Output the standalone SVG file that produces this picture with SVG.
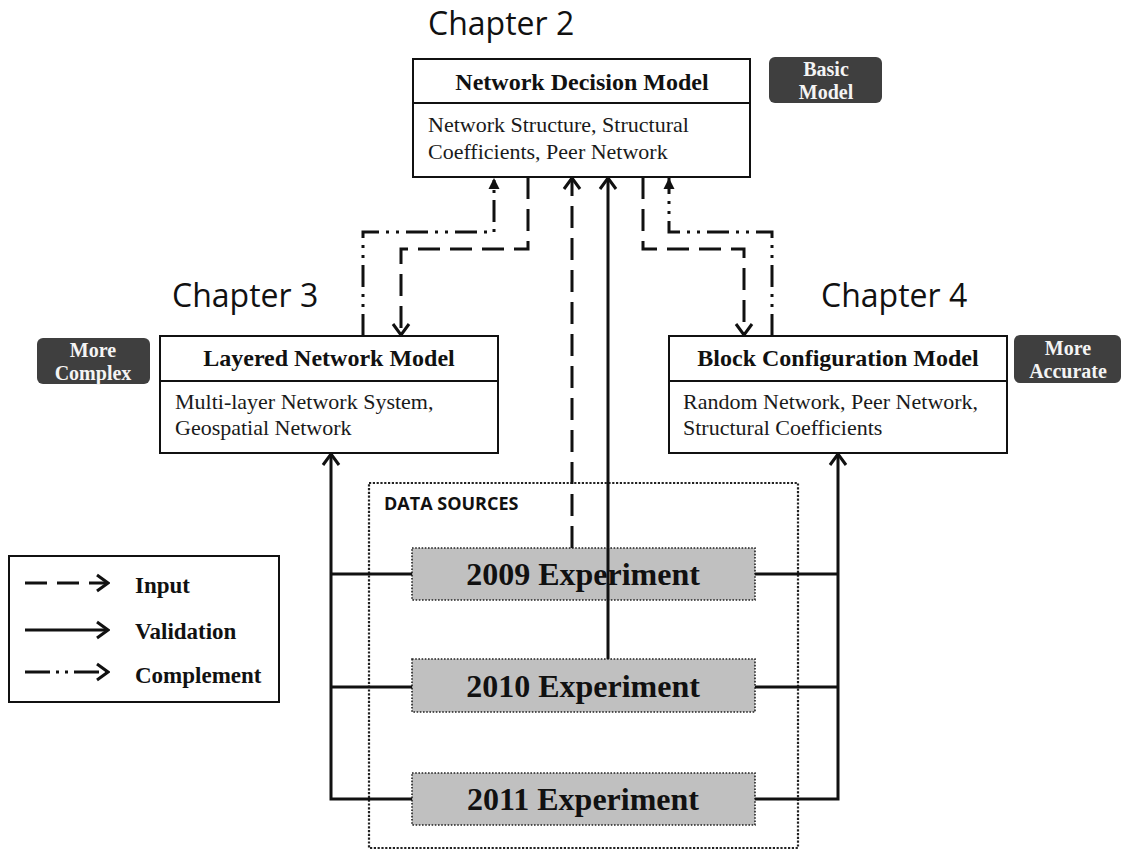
<svg xmlns="http://www.w3.org/2000/svg" width="1123" height="851" viewBox="0 0 1123 851">
<style>
.box{fill:#fff;stroke:#111;stroke-width:2}
.div{stroke:#111;stroke-width:2}
.title{font-family:"Liberation Serif",serif;font-weight:bold;font-size:24px;fill:#111;text-anchor:middle}
.body{font-family:"Liberation Serif",serif;font-size:22px;fill:#1a1a1a}
.chap{font-family:"Open Sans","Liberation Sans",sans-serif;font-size:32px;fill:#111}
.badge{fill:#3f3f3f}
.btxt{font-family:"Liberation Serif",serif;font-weight:bold;font-size:20px;fill:#f4f4f4;text-anchor:middle}
.exp{fill:#c0c0c0;stroke:#222;stroke-width:1.6;stroke-dasharray:1.6 1.6}
.etxt{font-family:"Liberation Serif",serif;font-weight:bold;font-size:32px;fill:#111;text-anchor:middle}
.ds{fill:none;stroke:#222;stroke-width:2.2;stroke-dasharray:2.2 1.6}
.dstxt{font-family:"Open Sans","Liberation Sans",sans-serif;font-weight:bold;font-size:18px;fill:#111}
.ltxt{font-family:"Liberation Serif",serif;font-weight:bold;font-size:23px;fill:#111}
.c{fill:none;stroke:#111;stroke-width:3}
.dash{stroke-dasharray:22 10}
.dd{stroke-dasharray:22 7 3 7 3 7}
</style>
<defs>
<marker id="open" viewBox="0 0 20 20" refX="18" refY="10" markerWidth="20" markerHeight="20" markerUnits="userSpaceOnUse" orient="auto">
<path d="M7,2 L18,10 L7,18" fill="none" stroke="#111" stroke-width="3" stroke-dasharray="none"/>
</marker>
<marker id="tri" viewBox="0 0 12 12" refX="11" refY="6" markerWidth="12" markerHeight="12" markerUnits="userSpaceOnUse" orient="auto">
<path d="M0,0.5 L11,6 L0,11.5 Z" fill="#111" stroke="none"/>
</marker>
</defs>

<g id="chapter-labels">
<text class="chap" x="428" y="35">Chapter 2</text>
<text class="chap" x="172" y="307">Chapter 3</text>
<text class="chap" x="821" y="307">Chapter 4</text>
</g>

<g id="network-decision-model">
<rect class="box" x="413" y="59" width="337" height="118"/>
<line class="div" x1="413" y1="103" x2="750" y2="103"/>
<text class="title" x="582" y="90">Network Decision Model</text>
<text class="body" x="428" y="132">Network Structure, Structural</text>
<text class="body" x="428" y="159">Coefficients, Peer Network</text>
</g>

<g id="badge-basic">
<rect class="badge" x="769" y="57" width="113" height="46" rx="6"/>
<text class="btxt" x="826" y="76">Basic</text>
<text class="btxt" x="826" y="99">Model</text>
</g>

<g id="layered-network-model">
<rect class="box" x="160" y="336" width="338" height="117"/>
<line class="div" x1="160" y1="381" x2="498" y2="381"/>
<text class="title" x="329" y="366">Layered Network Model</text>
<text class="body" x="175" y="409">Multi-layer Network System,</text>
<text class="body" x="175" y="435">Geospatial Network</text>
</g>

<g id="badge-complex">
<rect class="badge" x="37" y="338" width="113" height="46" rx="6"/>
<text class="btxt" x="93" y="357">More</text>
<text class="btxt" x="93" y="380">Complex</text>
</g>

<g id="block-configuration-model">
<rect class="box" x="669" y="336" width="338" height="117"/>
<line class="div" x1="669" y1="381" x2="1007" y2="381"/>
<text class="title" x="838" y="366">Block Configuration Model</text>
<text class="body" x="683" y="409">Random Network, Peer Network,</text>
<text class="body" x="683" y="435">Structural Coefficients</text>
</g>

<g id="badge-accurate">
<rect class="badge" x="1014" y="335" width="107" height="48" rx="6"/>
<text class="btxt" x="1068" y="355">More</text>
<text class="btxt" x="1068" y="378">Accurate</text>
</g>

<g id="data-sources">
<rect class="ds" x="369" y="483" width="429" height="365"/>
<text class="dstxt" x="384" y="510">DATA SOURCES</text>
</g>

<g id="exp-2009">
<rect class="exp" x="412" y="548" width="343" height="52"/>
<text class="etxt" x="583" y="585">2009 Experiment</text>
</g>
<g id="exp-2010">
<rect class="exp" x="412" y="659" width="343" height="53"/>
<text class="etxt" x="583" y="697">2010 Experiment</text>
</g>
<g id="exp-2011">
<rect class="exp" x="412" y="773" width="343" height="52"/>
<text class="etxt" x="583" y="810">2011 Experiment</text>
</g>

<g id="legend">
<rect class="box" x="9" y="556" width="270" height="146"/>
<path class="c dash" d="M25,583 H108" marker-end="url(#open)"/>
<text class="ltxt" x="135" y="593">Input</text>
<path class="c" d="M25,630 H108" marker-end="url(#open)"/>
<text class="ltxt" x="135" y="639">Validation</text>
<path class="c" d="M25,672 H108" stroke-dasharray="25 6 3 6 3 6" marker-end="url(#open)"/>
<text class="ltxt" x="135" y="683">Complement</text>
</g>

<g id="connectors">
<path class="c dd" d="M363,336 V232 H494 V178" marker-end="url(#tri)"/>
<path class="c dash" d="M528,177 V249 H401 V335" marker-end="url(#open)"/>
<path class="c dash" d="M572,548 V178" marker-end="url(#open)"/>
<path class="c" d="M608,659 V178" marker-end="url(#open)"/>
<path class="c dash" d="M643,177 V249 H744 V335" marker-end="url(#open)"/>
<path class="c dd" d="M772,336 V232 H669 V178" marker-end="url(#tri)"/>
<path class="c" d="M412,799 H331 V454" marker-end="url(#open)"/>
<path class="c" d="M412,574 H331"/>
<path class="c" d="M412,687 H331"/>
<path class="c" d="M755,799 H838 V454" marker-end="url(#open)"/>
<path class="c" d="M755,574 H838"/>
<path class="c" d="M755,687 H838"/>
</g>
</svg>
